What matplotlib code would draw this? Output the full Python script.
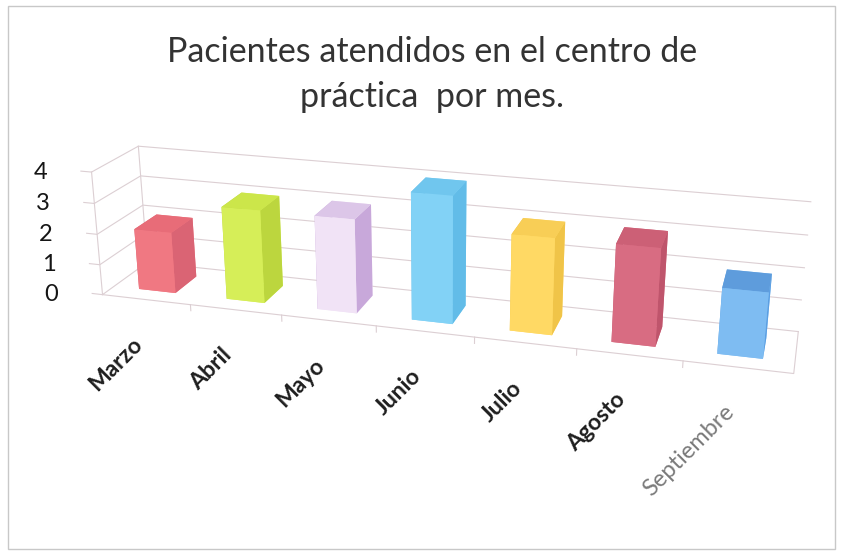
import numpy as np
import matplotlib.pyplot as plt
from matplotlib.patches import Rectangle
from matplotlib.transforms import offset_copy
from mpl_toolkits.mplot3d import proj3d

meses = ['Marzo', 'Abril', 'Mayo', 'Junio', 'Julio', 'Agosto', 'Septiembre']
pacientes = [2, 3, 3, 4, 3, 3, 2]
niveles = [0, 1, 2, 3, 4]

# colores de cada barra: frente, costado y techo
frente = ['#F07882', '#D6EE58', '#F1E3F6', '#82D2F6', '#FFD964', '#D86C82', '#7EBCF2']
costado = ['#DA6474', '#BCD63E', '#C8A8DA', '#62BCE8', '#F0C448', '#BF556C', '#5C9FE2']
techo = ['#E86C78', '#CCE64A', '#DCC6E8', '#70C6EE', '#F8CE56', '#CC6076', '#5E9CDC']

plt.rcParams['font.family'] = ['Lato', 'DejaVu Sans']

fig = plt.figure(figsize=(8.43, 5.56), dpi=100)
fig.patches.append(Rectangle((0.009, 0.012), 0.982, 0.978, transform=fig.transFigure,
                             fill=False, edgecolor='#c8c8c8', lw=1))

fig.text(0.512, 0.906, 'Pacientes atendidos en el centro de', ha='center', va='center',
         fontsize=24.5, color='#333333')
fig.text(0.512, 0.826, 'práctica  por mes.', ha='center', va='center',
         fontsize=24.5, color='#333333')

# el area 3d es cuadrada, por eso el rectangulo sale de la figura
ax = fig.add_axes([0.033, -0.19, 0.95, 1.44], projection='3d', computed_zorder=False)
ax.patch.set_alpha(0)
ax.set_proj_type('persp', focal_length=0.32)
ax.view_init(elev=20, azim=-74)
ax.set_xlim(0, 7)
ax.set_ylim(0, 1)
ax.set_zlim(0, 4)
ax.set_box_aspect((7, 1, 1.33), zoom=0.88)
ax.set_axis_off()

gc = '#dccfd3'
# paredes: lateral izquierda y fondo con lineas de division
for z in niveles:
    ax.plot([-0.12, 0, 0, 7], [0, 0, 1, 1], [z, z, z, z], color=gc, lw=0.8, zorder=1)
ax.plot([0, 0], [0, 0], [0, 4], color=gc, lw=0.8, zorder=1)
ax.plot([0, 0], [1, 1], [0, 4], color=gc, lw=0.8, zorder=1)
# piso
ax.plot([0, 7, 7], [0, 0, 1], [0, 0, 0], color=gc, lw=0.8, zorder=1)
for k in range(1, 7):
    ax.plot([k, k], [0, 0], [0, -0.2], color=gc, lw=0.8, zorder=1)

ancho = 0.42
fondo = 0.5
for i, v in enumerate(pacientes):
    caras = [frente[i], techo[i], frente[i], frente[i], costado[i], costado[i]]
    ax.bar3d(i + 0.5 - ancho / 2, 0.5 - fondo / 2, 0, ancho, fondo, v,
             color=caras, shade=False, linewidth=0, zorder=2 + i)

fig.canvas.draw()

# etiquetas del eje vertical
for z in niveles:
    px, py, _ = proj3d.proj_transform(0, 0, z, ax.M)
    ax.text2D(px, py, str(z), ha='right', va='center', fontsize=17, color='#151515',
              transform=offset_copy(ax.transData, fig, x=-32, y=0, units='points'))

# etiquetas de los meses, giradas 45 grados
for i, mes in enumerate(meses):
    px, py, _ = proj3d.proj_transform(i + 0.5, 0, 0, ax.M)
    ultimo = mes == 'Septiembre'
    ax.text2D(px, py, mes, ha='right', va='center', rotation=45, rotation_mode='anchor',
              fontsize=17 if ultimo else 16.5, fontweight='normal' if ultimo else 'bold',
              color='#7a7a7a' if ultimo else '#1e1e1e',
              transform=offset_copy(ax.transData, fig, x=-5, y=-30, units='points'))

fig.savefig('out.png', dpi=100)
